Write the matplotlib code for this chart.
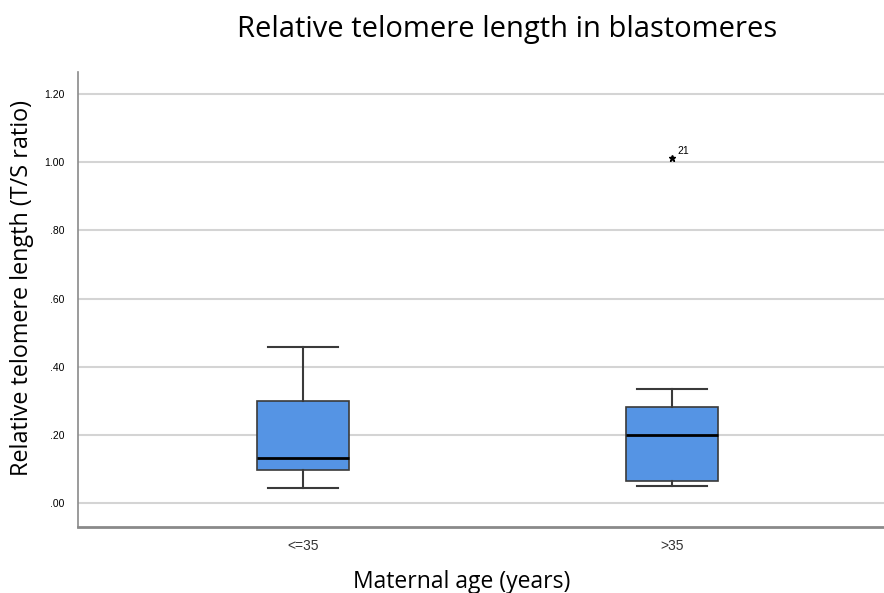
import matplotlib
matplotlib.use('Agg')
import matplotlib.pyplot as plt

# values
groups = ['<=35', '>35']
whisker_low = [0.044, 0.050]
q1 = [0.097, 0.065]
median = [0.132, 0.200]
q3 = [0.299, 0.282]
whisker_high = [0.458, 0.335]
outliers = [[], [1.012]]
outlier_ids = [[], ['21']]
yticks = [0.0, 0.2, 0.4, 0.6, 0.8, 1.0, 1.2]
ytick_labels = ['.00', '.20', '.40', '.60', '.80', '1.00', '1.20']

stats = []
for i in range(len(groups)):
    stats.append({'label': groups[i], 'whislo': whisker_low[i], 'q1': q1[i],
                  'med': median[i], 'q3': q3[i], 'whishi': whisker_high[i],
                  'fliers': []})

fig = plt.figure(figsize=(8.84, 5.93), dpi=100)
ax = fig.add_axes([78 / 884, 1 - 527 / 593, 806 / 884, (527 - 72) / 593])

edge = '#3a3a3a'
ax.bxp(stats, positions=[1, 2], widths=0.25, patch_artist=True,
       boxprops=dict(facecolor='#5594e4', edgecolor=edge, linewidth=1.2),
       medianprops=dict(color='black', linewidth=2),
       whiskerprops=dict(color=edge, linewidth=1.5),
       capprops=dict(color=edge, linewidth=1.5),
       capwidths=0.19, zorder=3)

for i in range(len(groups)):
    for v, lab in zip(outliers[i], outlier_ids[i]):
        ax.plot(i + 1, v, marker='*', color='black', markersize=5, zorder=4)
        ax.annotate(lab, (i + 1, v), xytext=(4, 3), textcoords='offset points',
                    fontsize=7.5, family='Liberation Sans')

ax.set_xlim(0.39, 2.575)
ax.set_ylim(-0.07, 1.265)
ax.set_yticks(yticks)
ax.set_yticklabels(ytick_labels, fontsize=7.5, family='Liberation Sans')
ax.set_xticks([1, 2])
ax.set_xticklabels(groups, fontsize=10, family='Liberation Sans', color='#333333')
ax.tick_params(axis='both', length=0, pad=10)
ax.tick_params(axis='x', pad=9)
ax.yaxis.grid(True, color='#d4d4d4', linewidth=1.5, zorder=0)
ax.set_axisbelow(True)
for s in ['top', 'right']:
    ax.spines[s].set_visible(False)
ax.spines['left'].set_color('#8a8a8a')
ax.spines['bottom'].set_color('#8a8a8a')
ax.spines['left'].set_linewidth(1.2)
ax.spines['bottom'].set_linewidth(2)

fig.text(507 / 884, 1 - 30 / 593, 'Relative telomere length in blastomeres',
         ha='center', va='center', fontsize=21, family='Open Sans')
fig.text(22 / 884, 1 - 288 / 593, 'Relative telomere length (T/S ratio)',
         ha='center', va='center', rotation=90, fontsize=16.8, family='Open Sans')
fig.text(462 / 884, 1 - 582 / 593, 'Maternal age (years)',
         ha='center', va='center', fontsize=16.5, family='Open Sans')

fig.savefig('out.png', dpi=100)
